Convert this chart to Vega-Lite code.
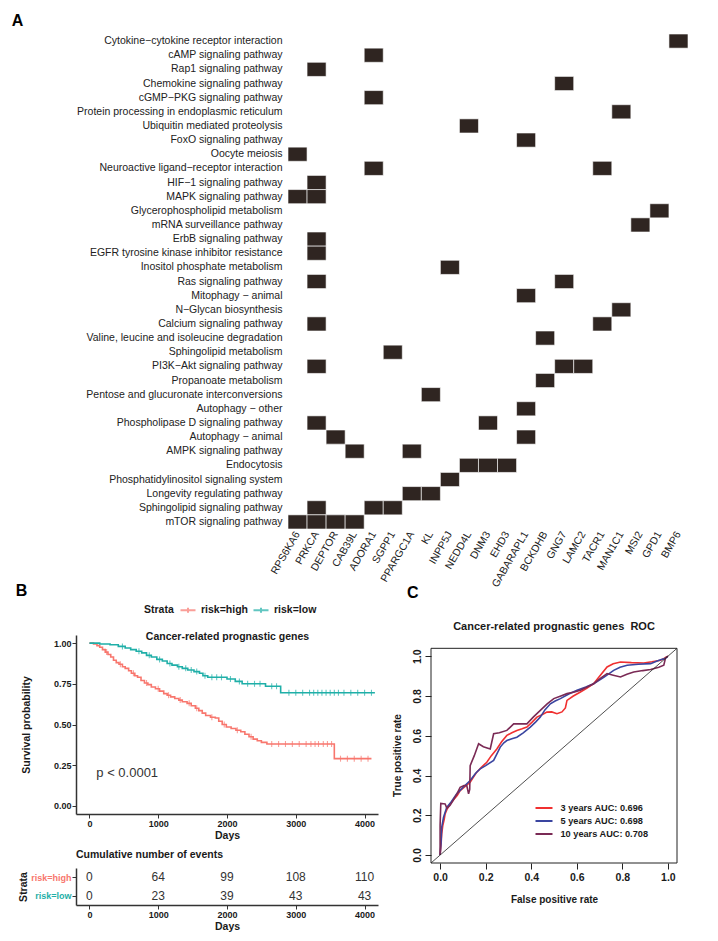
{
"$schema": "https://vega.github.io/schema/vega-lite/v6.json",
"padding": {"left": 11, "top": 12, "right": 5, "bottom": 5},
"config": {
  "font": "Liberation Sans",
  "view": {"stroke": null},
  "axis": {"labelFont": "Liberation Sans", "titleFont": "Liberation Sans", "grid": false},
  "title": {"font": "Liberation Sans"},
  "legend": {"labelFont": "Liberation Sans", "titleFont": "Liberation Sans"},
  "text": {"font": "Liberation Sans"}
},
"title": {"text": "A", "anchor": "start", "fontSize": 16, "fontWeight": "bold", "offset": 5, "dx": -4},
"resolve": {"scale": {"color": "independent"}, "legend": {"color": "independent"}},
"datasets": {
  "heat": [
    {"pathway": "Cytokine−cytokine receptor interaction", "gene": "BMP6"},
    {"pathway": "cAMP signaling pathway", "gene": "ADORA1"},
    {"pathway": "Rap1 signaling pathway", "gene": "PRKCA"},
    {"pathway": "Chemokine signaling pathway", "gene": "GNG7"},
    {"pathway": "cGMP−PKG signaling pathway", "gene": "ADORA1"},
    {"pathway": "Protein processing in endoplasmic reticulum", "gene": "MAN1C1"},
    {"pathway": "Ubiquitin mediated proteolysis", "gene": "NEDD4L"},
    {"pathway": "FoxO signaling pathway", "gene": "GABARAPL1"},
    {"pathway": "Oocyte meiosis", "gene": "RPS6KA6"},
    {"pathway": "Neuroactive ligand−receptor interaction", "gene": "ADORA1"},
    {"pathway": "Neuroactive ligand−receptor interaction", "gene": "TACR1"},
    {"pathway": "HIF−1 signaling pathway", "gene": "PRKCA"},
    {"pathway": "MAPK signaling pathway", "gene": "RPS6KA6"},
    {"pathway": "MAPK signaling pathway", "gene": "PRKCA"},
    {"pathway": "Glycerophospholipid metabolism", "gene": "GPD1"},
    {"pathway": "mRNA surveillance pathway", "gene": "MSI2"},
    {"pathway": "ErbB signaling pathway", "gene": "PRKCA"},
    {"pathway": "EGFR tyrosine kinase inhibitor resistance", "gene": "PRKCA"},
    {"pathway": "Inositol phosphate metabolism", "gene": "INPP5J"},
    {"pathway": "Ras signaling pathway", "gene": "PRKCA"},
    {"pathway": "Ras signaling pathway", "gene": "GNG7"},
    {"pathway": "Mitophagy − animal", "gene": "GABARAPL1"},
    {"pathway": "N−Glycan biosynthesis", "gene": "MAN1C1"},
    {"pathway": "Calcium signaling pathway", "gene": "PRKCA"},
    {"pathway": "Calcium signaling pathway", "gene": "TACR1"},
    {"pathway": "Valine, leucine and isoleucine degradation", "gene": "BCKDHB"},
    {"pathway": "Sphingolipid metabolism", "gene": "SGPP1"},
    {"pathway": "PI3K−Akt signaling pathway", "gene": "PRKCA"},
    {"pathway": "PI3K−Akt signaling pathway", "gene": "GNG7"},
    {"pathway": "PI3K−Akt signaling pathway", "gene": "LAMC2"},
    {"pathway": "Propanoate metabolism", "gene": "BCKDHB"},
    {"pathway": "Pentose and glucuronate interconversions", "gene": "KL"},
    {"pathway": "Autophagy − other", "gene": "GABARAPL1"},
    {"pathway": "Phospholipase D signaling pathway", "gene": "PRKCA"},
    {"pathway": "Phospholipase D signaling pathway", "gene": "DNM3"},
    {"pathway": "Autophagy − animal", "gene": "DEPTOR"},
    {"pathway": "Autophagy − animal", "gene": "GABARAPL1"},
    {"pathway": "AMPK signaling pathway", "gene": "CAB39L"},
    {"pathway": "AMPK signaling pathway", "gene": "PPARGC1A"},
    {"pathway": "Endocytosis", "gene": "NEDD4L"},
    {"pathway": "Endocytosis", "gene": "DNM3"},
    {"pathway": "Endocytosis", "gene": "EHD3"},
    {"pathway": "Phosphatidylinositol signaling system", "gene": "INPP5J"},
    {"pathway": "Longevity regulating pathway", "gene": "PPARGC1A"},
    {"pathway": "Longevity regulating pathway", "gene": "KL"},
    {"pathway": "Sphingolipid signaling pathway", "gene": "PRKCA"},
    {"pathway": "Sphingolipid signaling pathway", "gene": "ADORA1"},
    {"pathway": "Sphingolipid signaling pathway", "gene": "SGPP1"},
    {"pathway": "mTOR signaling pathway", "gene": "RPS6KA6"},
    {"pathway": "mTOR signaling pathway", "gene": "PRKCA"},
    {"pathway": "mTOR signaling pathway", "gene": "DEPTOR"},
    {"pathway": "mTOR signaling pathway", "gene": "CAB39L"}
  ],
  "km": [
    {"strata": "risk=high", "days": 0, "surv": 1.0},
    {"strata": "risk=high", "days": 60, "surv": 0.995},
    {"strata": "risk=high", "days": 110, "surv": 0.985},
    {"strata": "risk=high", "days": 150, "surv": 0.975},
    {"strata": "risk=high", "days": 190, "surv": 0.96},
    {"strata": "risk=high", "days": 230, "surv": 0.945},
    {"strata": "risk=high", "days": 270, "surv": 0.93},
    {"strata": "risk=high", "days": 310, "surv": 0.915},
    {"strata": "risk=high", "days": 350, "surv": 0.895},
    {"strata": "risk=high", "days": 390, "surv": 0.88},
    {"strata": "risk=high", "days": 430, "surv": 0.87},
    {"strata": "risk=high", "days": 480, "surv": 0.855},
    {"strata": "risk=high", "days": 520, "surv": 0.845},
    {"strata": "risk=high", "days": 570, "surv": 0.83},
    {"strata": "risk=high", "days": 610, "surv": 0.815},
    {"strata": "risk=high", "days": 660, "surv": 0.8},
    {"strata": "risk=high", "days": 700, "surv": 0.79},
    {"strata": "risk=high", "days": 750, "surv": 0.77},
    {"strata": "risk=high", "days": 800, "surv": 0.755},
    {"strata": "risk=high", "days": 850, "surv": 0.745},
    {"strata": "risk=high", "days": 900, "surv": 0.73},
    {"strata": "risk=high", "days": 960, "surv": 0.72},
    {"strata": "risk=high", "days": 1020, "surv": 0.705},
    {"strata": "risk=high", "days": 1080, "surv": 0.69},
    {"strata": "risk=high", "days": 1130, "surv": 0.68},
    {"strata": "risk=high", "days": 1180, "surv": 0.67},
    {"strata": "risk=high", "days": 1240, "surv": 0.66},
    {"strata": "risk=high", "days": 1300, "surv": 0.65},
    {"strata": "risk=high", "days": 1350, "surv": 0.64},
    {"strata": "risk=high", "days": 1420, "surv": 0.63},
    {"strata": "risk=high", "days": 1480, "surv": 0.615},
    {"strata": "risk=high", "days": 1540, "surv": 0.6},
    {"strata": "risk=high", "days": 1590, "surv": 0.585},
    {"strata": "risk=high", "days": 1640, "surv": 0.57},
    {"strata": "risk=high", "days": 1690, "surv": 0.555},
    {"strata": "risk=high", "days": 1760, "surv": 0.545},
    {"strata": "risk=high", "days": 1830, "surv": 0.54},
    {"strata": "risk=high", "days": 1880, "surv": 0.52},
    {"strata": "risk=high", "days": 1930, "surv": 0.5},
    {"strata": "risk=high", "days": 1990, "surv": 0.485},
    {"strata": "risk=high", "days": 2060, "surv": 0.475},
    {"strata": "risk=high", "days": 2130, "surv": 0.465},
    {"strata": "risk=high", "days": 2200, "surv": 0.455},
    {"strata": "risk=high", "days": 2260, "surv": 0.44},
    {"strata": "risk=high", "days": 2320, "surv": 0.425},
    {"strata": "risk=high", "days": 2380, "surv": 0.41},
    {"strata": "risk=high", "days": 2440, "surv": 0.4},
    {"strata": "risk=high", "days": 2500, "surv": 0.39},
    {"strata": "risk=high", "days": 2580, "surv": 0.38},
    {"strata": "risk=high", "days": 3560, "surv": 0.29},
    {"strata": "risk=high", "days": 4100, "surv": 0.29},
    {"strata": "risk=low", "days": 0, "surv": 1.0},
    {"strata": "risk=low", "days": 150, "surv": 0.995},
    {"strata": "risk=low", "days": 300, "surv": 0.99},
    {"strata": "risk=low", "days": 420, "surv": 0.98},
    {"strata": "risk=low", "days": 520, "surv": 0.97},
    {"strata": "risk=low", "days": 600, "surv": 0.96},
    {"strata": "risk=low", "days": 680, "surv": 0.95},
    {"strata": "risk=low", "days": 760, "surv": 0.94},
    {"strata": "risk=low", "days": 830, "surv": 0.925},
    {"strata": "risk=low", "days": 900, "surv": 0.915},
    {"strata": "risk=low", "days": 980, "surv": 0.9},
    {"strata": "risk=low", "days": 1060, "surv": 0.89},
    {"strata": "risk=low", "days": 1130, "surv": 0.875},
    {"strata": "risk=low", "days": 1200, "surv": 0.865},
    {"strata": "risk=low", "days": 1280, "surv": 0.855},
    {"strata": "risk=low", "days": 1350, "surv": 0.845},
    {"strata": "risk=low", "days": 1430, "surv": 0.835},
    {"strata": "risk=low", "days": 1520, "surv": 0.825},
    {"strata": "risk=low", "days": 1600, "surv": 0.815},
    {"strata": "risk=low", "days": 1650, "surv": 0.8},
    {"strata": "risk=low", "days": 1720, "surv": 0.79},
    {"strata": "risk=low", "days": 2000, "surv": 0.78},
    {"strata": "risk=low", "days": 2120, "surv": 0.765},
    {"strata": "risk=low", "days": 2220, "surv": 0.75},
    {"strata": "risk=low", "days": 2560, "surv": 0.735},
    {"strata": "risk=low", "days": 2780, "surv": 0.695},
    {"strata": "risk=low", "days": 4150, "surv": 0.695}
  ],
  "censor": [
    {"strata": "risk=high", "days": 250, "surv": 0.945},
    {"strata": "risk=high", "days": 450, "surv": 0.87},
    {"strata": "risk=high", "days": 640, "surv": 0.815},
    {"strata": "risk=high", "days": 830, "surv": 0.755},
    {"strata": "risk=high", "days": 1000, "surv": 0.72},
    {"strata": "risk=high", "days": 1150, "surv": 0.68},
    {"strata": "risk=high", "days": 1320, "surv": 0.65},
    {"strata": "risk=high", "days": 1450, "surv": 0.63},
    {"strata": "risk=high", "days": 1560, "surv": 0.6},
    {"strata": "risk=high", "days": 1780, "surv": 0.545},
    {"strata": "risk=high", "days": 1960, "surv": 0.5},
    {"strata": "risk=high", "days": 2150, "surv": 0.465},
    {"strata": "risk=high", "days": 2350, "surv": 0.425},
    {"strata": "risk=high", "days": 2650, "surv": 0.38},
    {"strata": "risk=high", "days": 2750, "surv": 0.38},
    {"strata": "risk=high", "days": 2850, "surv": 0.38},
    {"strata": "risk=high", "days": 2950, "surv": 0.38},
    {"strata": "risk=high", "days": 3050, "surv": 0.38},
    {"strata": "risk=high", "days": 3150, "surv": 0.38},
    {"strata": "risk=high", "days": 3220, "surv": 0.38},
    {"strata": "risk=high", "days": 3280, "surv": 0.38},
    {"strata": "risk=high", "days": 3330, "surv": 0.38},
    {"strata": "risk=high", "days": 3400, "surv": 0.38},
    {"strata": "risk=high", "days": 3460, "surv": 0.38},
    {"strata": "risk=high", "days": 3520, "surv": 0.38},
    {"strata": "risk=high", "days": 3650, "surv": 0.29},
    {"strata": "risk=high", "days": 3750, "surv": 0.29},
    {"strata": "risk=high", "days": 3850, "surv": 0.29},
    {"strata": "risk=high", "days": 3950, "surv": 0.29},
    {"strata": "risk=high", "days": 4050, "surv": 0.29},
    {"strata": "risk=low", "days": 480, "surv": 0.98},
    {"strata": "risk=low", "days": 720, "surv": 0.95},
    {"strata": "risk=low", "days": 870, "surv": 0.925},
    {"strata": "risk=low", "days": 1020, "surv": 0.9},
    {"strata": "risk=low", "days": 1170, "surv": 0.875},
    {"strata": "risk=low", "days": 1300, "surv": 0.855},
    {"strata": "risk=low", "days": 1400, "surv": 0.845},
    {"strata": "risk=low", "days": 1480, "surv": 0.835},
    {"strata": "risk=low", "days": 1560, "surv": 0.825},
    {"strata": "risk=low", "days": 1680, "surv": 0.8},
    {"strata": "risk=low", "days": 1780, "surv": 0.79},
    {"strata": "risk=low", "days": 1850, "surv": 0.79},
    {"strata": "risk=low", "days": 1920, "surv": 0.79},
    {"strata": "risk=low", "days": 2050, "surv": 0.78},
    {"strata": "risk=low", "days": 2180, "surv": 0.765},
    {"strata": "risk=low", "days": 2300, "surv": 0.75},
    {"strata": "risk=low", "days": 2400, "surv": 0.75},
    {"strata": "risk=low", "days": 2480, "surv": 0.75},
    {"strata": "risk=low", "days": 2650, "surv": 0.735},
    {"strata": "risk=low", "days": 2720, "surv": 0.735},
    {"strata": "risk=low", "days": 2900, "surv": 0.695},
    {"strata": "risk=low", "days": 3000, "surv": 0.695},
    {"strata": "risk=low", "days": 3100, "surv": 0.695},
    {"strata": "risk=low", "days": 3200, "surv": 0.695},
    {"strata": "risk=low", "days": 3260, "surv": 0.695},
    {"strata": "risk=low", "days": 3320, "surv": 0.695},
    {"strata": "risk=low", "days": 3380, "surv": 0.695},
    {"strata": "risk=low", "days": 3440, "surv": 0.695},
    {"strata": "risk=low", "days": 3500, "surv": 0.695},
    {"strata": "risk=low", "days": 3560, "surv": 0.695},
    {"strata": "risk=low", "days": 3620, "surv": 0.695},
    {"strata": "risk=low", "days": 3700, "surv": 0.695},
    {"strata": "risk=low", "days": 3800, "surv": 0.695},
    {"strata": "risk=low", "days": 3900, "surv": 0.695},
    {"strata": "risk=low", "days": 4000, "surv": 0.695},
    {"strata": "risk=low", "days": 4100, "surv": 0.695}
  ],
  "risk": [
    {"strata": "risk=high", "days": 0, "events": 0},
    {"strata": "risk=high", "days": 1000, "events": 64},
    {"strata": "risk=high", "days": 2000, "events": 99},
    {"strata": "risk=high", "days": 3000, "events": 108},
    {"strata": "risk=high", "days": 4000, "events": 110},
    {"strata": "risk=low", "days": 0, "events": 0},
    {"strata": "risk=low", "days": 1000, "events": 23},
    {"strata": "risk=low", "days": 2000, "events": 39},
    {"strata": "risk=low", "days": 3000, "events": 43},
    {"strata": "risk=low", "days": 4000, "events": 43}
  ],
  "roc": [
    {"curve": "3 years AUC: 0.696", "i": 0, "fpr": 0, "tpr": 0},
    {"curve": "3 years AUC: 0.696", "i": 1, "fpr": 0.004, "tpr": 0.05},
    {"curve": "3 years AUC: 0.696", "i": 2, "fpr": 0.007, "tpr": 0.106},
    {"curve": "3 years AUC: 0.696", "i": 3, "fpr": 0.012, "tpr": 0.15},
    {"curve": "3 years AUC: 0.696", "i": 4, "fpr": 0.018, "tpr": 0.18},
    {"curve": "3 years AUC: 0.696", "i": 5, "fpr": 0.022, "tpr": 0.207},
    {"curve": "3 years AUC: 0.696", "i": 6, "fpr": 0.03, "tpr": 0.23},
    {"curve": "3 years AUC: 0.696", "i": 7, "fpr": 0.044, "tpr": 0.257},
    {"curve": "3 years AUC: 0.696", "i": 8, "fpr": 0.06, "tpr": 0.28},
    {"curve": "3 years AUC: 0.696", "i": 9, "fpr": 0.075, "tpr": 0.3},
    {"curve": "3 years AUC: 0.696", "i": 10, "fpr": 0.088, "tpr": 0.324},
    {"curve": "3 years AUC: 0.696", "i": 11, "fpr": 0.1, "tpr": 0.335},
    {"curve": "3 years AUC: 0.696", "i": 12, "fpr": 0.115, "tpr": 0.35},
    {"curve": "3 years AUC: 0.696", "i": 13, "fpr": 0.132, "tpr": 0.366},
    {"curve": "3 years AUC: 0.696", "i": 14, "fpr": 0.145, "tpr": 0.39},
    {"curve": "3 years AUC: 0.696", "i": 15, "fpr": 0.161, "tpr": 0.417},
    {"curve": "3 years AUC: 0.696", "i": 16, "fpr": 0.18, "tpr": 0.44},
    {"curve": "3 years AUC: 0.696", "i": 17, "fpr": 0.205, "tpr": 0.467},
    {"curve": "3 years AUC: 0.696", "i": 18, "fpr": 0.225, "tpr": 0.5},
    {"curve": "3 years AUC: 0.696", "i": 19, "fpr": 0.249, "tpr": 0.534},
    {"curve": "3 years AUC: 0.696", "i": 20, "fpr": 0.27, "tpr": 0.57},
    {"curve": "3 years AUC: 0.696", "i": 21, "fpr": 0.293, "tpr": 0.602},
    {"curve": "3 years AUC: 0.696", "i": 22, "fpr": 0.315, "tpr": 0.615},
    {"curve": "3 years AUC: 0.696", "i": 23, "fpr": 0.337, "tpr": 0.627},
    {"curve": "3 years AUC: 0.696", "i": 24, "fpr": 0.36, "tpr": 0.635},
    {"curve": "3 years AUC: 0.696", "i": 25, "fpr": 0.381, "tpr": 0.644},
    {"curve": "3 years AUC: 0.696", "i": 26, "fpr": 0.405, "tpr": 0.67},
    {"curve": "3 years AUC: 0.696", "i": 27, "fpr": 0.425, "tpr": 0.694},
    {"curve": "3 years AUC: 0.696", "i": 28, "fpr": 0.445, "tpr": 0.705},
    {"curve": "3 years AUC: 0.696", "i": 29, "fpr": 0.469, "tpr": 0.719},
    {"curve": "3 years AUC: 0.696", "i": 30, "fpr": 0.49, "tpr": 0.72},
    {"curve": "3 years AUC: 0.696", "i": 31, "fpr": 0.513, "tpr": 0.711},
    {"curve": "3 years AUC: 0.696", "i": 32, "fpr": 0.535, "tpr": 0.72},
    {"curve": "3 years AUC: 0.696", "i": 33, "fpr": 0.55, "tpr": 0.74},
    {"curve": "3 years AUC: 0.696", "i": 34, "fpr": 0.557, "tpr": 0.778},
    {"curve": "3 years AUC: 0.696", "i": 35, "fpr": 0.585, "tpr": 0.8},
    {"curve": "3 years AUC: 0.696", "i": 36, "fpr": 0.616, "tpr": 0.82},
    {"curve": "3 years AUC: 0.696", "i": 37, "fpr": 0.645, "tpr": 0.84},
    {"curve": "3 years AUC: 0.696", "i": 38, "fpr": 0.674, "tpr": 0.862},
    {"curve": "3 years AUC: 0.696", "i": 39, "fpr": 0.7, "tpr": 0.9},
    {"curve": "3 years AUC: 0.696", "i": 40, "fpr": 0.733, "tpr": 0.946},
    {"curve": "3 years AUC: 0.696", "i": 41, "fpr": 0.76, "tpr": 0.962},
    {"curve": "3 years AUC: 0.696", "i": 42, "fpr": 0.792, "tpr": 0.971},
    {"curve": "3 years AUC: 0.696", "i": 43, "fpr": 0.84, "tpr": 0.968},
    {"curve": "3 years AUC: 0.696", "i": 44, "fpr": 0.894, "tpr": 0.966},
    {"curve": "3 years AUC: 0.696", "i": 45, "fpr": 0.93, "tpr": 0.972},
    {"curve": "3 years AUC: 0.696", "i": 46, "fpr": 0.968, "tpr": 0.98},
    {"curve": "3 years AUC: 0.696", "i": 47, "fpr": 0.985, "tpr": 0.99},
    {"curve": "3 years AUC: 0.696", "i": 48, "fpr": 1, "tpr": 1},
    {"curve": "5 years AUC: 0.698", "i": 0, "fpr": 0, "tpr": 0},
    {"curve": "5 years AUC: 0.698", "i": 1, "fpr": 0.004, "tpr": 0.06},
    {"curve": "5 years AUC: 0.698", "i": 2, "fpr": 0.007, "tpr": 0.14},
    {"curve": "5 years AUC: 0.698", "i": 3, "fpr": 0.015, "tpr": 0.19},
    {"curve": "5 years AUC: 0.698", "i": 4, "fpr": 0.029, "tpr": 0.24},
    {"curve": "5 years AUC: 0.698", "i": 5, "fpr": 0.05, "tpr": 0.27},
    {"curve": "5 years AUC: 0.698", "i": 6, "fpr": 0.073, "tpr": 0.308},
    {"curve": "5 years AUC: 0.698", "i": 7, "fpr": 0.1, "tpr": 0.34},
    {"curve": "5 years AUC: 0.698", "i": 8, "fpr": 0.132, "tpr": 0.375},
    {"curve": "5 years AUC: 0.698", "i": 9, "fpr": 0.155, "tpr": 0.41},
    {"curve": "5 years AUC: 0.698", "i": 10, "fpr": 0.176, "tpr": 0.434},
    {"curve": "5 years AUC: 0.698", "i": 11, "fpr": 0.2, "tpr": 0.45},
    {"curve": "5 years AUC: 0.698", "i": 12, "fpr": 0.235, "tpr": 0.476},
    {"curve": "5 years AUC: 0.698", "i": 13, "fpr": 0.25, "tpr": 0.51},
    {"curve": "5 years AUC: 0.698", "i": 14, "fpr": 0.264, "tpr": 0.543},
    {"curve": "5 years AUC: 0.698", "i": 15, "fpr": 0.28, "tpr": 0.565},
    {"curve": "5 years AUC: 0.698", "i": 16, "fpr": 0.293, "tpr": 0.576},
    {"curve": "5 years AUC: 0.698", "i": 17, "fpr": 0.315, "tpr": 0.585},
    {"curve": "5 years AUC: 0.698", "i": 18, "fpr": 0.337, "tpr": 0.593},
    {"curve": "5 years AUC: 0.698", "i": 19, "fpr": 0.365, "tpr": 0.615},
    {"curve": "5 years AUC: 0.698", "i": 20, "fpr": 0.396, "tpr": 0.644},
    {"curve": "5 years AUC: 0.698", "i": 21, "fpr": 0.42, "tpr": 0.67},
    {"curve": "5 years AUC: 0.698", "i": 22, "fpr": 0.44, "tpr": 0.694},
    {"curve": "5 years AUC: 0.698", "i": 23, "fpr": 0.46, "tpr": 0.73},
    {"curve": "5 years AUC: 0.698", "i": 24, "fpr": 0.484, "tpr": 0.761},
    {"curve": "5 years AUC: 0.698", "i": 25, "fpr": 0.505, "tpr": 0.775},
    {"curve": "5 years AUC: 0.698", "i": 26, "fpr": 0.528, "tpr": 0.787},
    {"curve": "5 years AUC: 0.698", "i": 27, "fpr": 0.565, "tpr": 0.81},
    {"curve": "5 years AUC: 0.698", "i": 28, "fpr": 0.601, "tpr": 0.829},
    {"curve": "5 years AUC: 0.698", "i": 29, "fpr": 0.64, "tpr": 0.845},
    {"curve": "5 years AUC: 0.698", "i": 30, "fpr": 0.674, "tpr": 0.862},
    {"curve": "5 years AUC: 0.698", "i": 31, "fpr": 0.72, "tpr": 0.895},
    {"curve": "5 years AUC: 0.698", "i": 32, "fpr": 0.762, "tpr": 0.929},
    {"curve": "5 years AUC: 0.698", "i": 33, "fpr": 0.79, "tpr": 0.945},
    {"curve": "5 years AUC: 0.698", "i": 34, "fpr": 0.821, "tpr": 0.955},
    {"curve": "5 years AUC: 0.698", "i": 35, "fpr": 0.87, "tpr": 0.96},
    {"curve": "5 years AUC: 0.698", "i": 36, "fpr": 0.924, "tpr": 0.963},
    {"curve": "5 years AUC: 0.698", "i": 37, "fpr": 0.95, "tpr": 0.975},
    {"curve": "5 years AUC: 0.698", "i": 38, "fpr": 0.968, "tpr": 0.983},
    {"curve": "5 years AUC: 0.698", "i": 39, "fpr": 0.99, "tpr": 0.99},
    {"curve": "5 years AUC: 0.698", "i": 40, "fpr": 1, "tpr": 1},
    {"curve": "10 years AUC: 0.708", "i": 0, "fpr": 0, "tpr": 0},
    {"curve": "10 years AUC: 0.708", "i": 1, "fpr": 0, "tpr": 0.15},
    {"curve": "10 years AUC: 0.708", "i": 2, "fpr": 0.003, "tpr": 0.26},
    {"curve": "10 years AUC: 0.708", "i": 3, "fpr": 0.015, "tpr": 0.258},
    {"curve": "10 years AUC: 0.708", "i": 4, "fpr": 0.022, "tpr": 0.257},
    {"curve": "10 years AUC: 0.708", "i": 5, "fpr": 0.03, "tpr": 0.235},
    {"curve": "10 years AUC: 0.708", "i": 6, "fpr": 0.044, "tpr": 0.25},
    {"curve": "10 years AUC: 0.708", "i": 7, "fpr": 0.06, "tpr": 0.28},
    {"curve": "10 years AUC: 0.708", "i": 8, "fpr": 0.075, "tpr": 0.31},
    {"curve": "10 years AUC: 0.708", "i": 9, "fpr": 0.088, "tpr": 0.341},
    {"curve": "10 years AUC: 0.708", "i": 10, "fpr": 0.105, "tpr": 0.35},
    {"curve": "10 years AUC: 0.708", "i": 11, "fpr": 0.117, "tpr": 0.35},
    {"curve": "10 years AUC: 0.708", "i": 12, "fpr": 0.125, "tpr": 0.308},
    {"curve": "10 years AUC: 0.708", "i": 13, "fpr": 0.13, "tpr": 0.33},
    {"curve": "10 years AUC: 0.708", "i": 14, "fpr": 0.132, "tpr": 0.45},
    {"curve": "10 years AUC: 0.708", "i": 15, "fpr": 0.15, "tpr": 0.5},
    {"curve": "10 years AUC: 0.708", "i": 16, "fpr": 0.169, "tpr": 0.56},
    {"curve": "10 years AUC: 0.708", "i": 17, "fpr": 0.19, "tpr": 0.545},
    {"curve": "10 years AUC: 0.708", "i": 18, "fpr": 0.22, "tpr": 0.534},
    {"curve": "10 years AUC: 0.708", "i": 19, "fpr": 0.235, "tpr": 0.61},
    {"curve": "10 years AUC: 0.708", "i": 20, "fpr": 0.26, "tpr": 0.615},
    {"curve": "10 years AUC: 0.708", "i": 21, "fpr": 0.293, "tpr": 0.627},
    {"curve": "10 years AUC: 0.708", "i": 22, "fpr": 0.323, "tpr": 0.66},
    {"curve": "10 years AUC: 0.708", "i": 23, "fpr": 0.35, "tpr": 0.66},
    {"curve": "10 years AUC: 0.708", "i": 24, "fpr": 0.381, "tpr": 0.66},
    {"curve": "10 years AUC: 0.708", "i": 25, "fpr": 0.41, "tpr": 0.695},
    {"curve": "10 years AUC: 0.708", "i": 26, "fpr": 0.44, "tpr": 0.728},
    {"curve": "10 years AUC: 0.708", "i": 27, "fpr": 0.47, "tpr": 0.76},
    {"curve": "10 years AUC: 0.708", "i": 28, "fpr": 0.499, "tpr": 0.787},
    {"curve": "10 years AUC: 0.708", "i": 29, "fpr": 0.53, "tpr": 0.8},
    {"curve": "10 years AUC: 0.708", "i": 30, "fpr": 0.557, "tpr": 0.812},
    {"curve": "10 years AUC: 0.708", "i": 31, "fpr": 0.59, "tpr": 0.82},
    {"curve": "10 years AUC: 0.708", "i": 32, "fpr": 0.616, "tpr": 0.829},
    {"curve": "10 years AUC: 0.708", "i": 33, "fpr": 0.645, "tpr": 0.845},
    {"curve": "10 years AUC: 0.708", "i": 34, "fpr": 0.674, "tpr": 0.862},
    {"curve": "10 years AUC: 0.708", "i": 35, "fpr": 0.705, "tpr": 0.89},
    {"curve": "10 years AUC: 0.708", "i": 36, "fpr": 0.733, "tpr": 0.913},
    {"curve": "10 years AUC: 0.708", "i": 37, "fpr": 0.76, "tpr": 0.905},
    {"curve": "10 years AUC: 0.708", "i": 38, "fpr": 0.792, "tpr": 0.896},
    {"curve": "10 years AUC: 0.708", "i": 39, "fpr": 0.82, "tpr": 0.91},
    {"curve": "10 years AUC: 0.708", "i": 40, "fpr": 0.85, "tpr": 0.921},
    {"curve": "10 years AUC: 0.708", "i": 41, "fpr": 0.89, "tpr": 0.928},
    {"curve": "10 years AUC: 0.708", "i": 42, "fpr": 0.924, "tpr": 0.933},
    {"curve": "10 years AUC: 0.708", "i": 43, "fpr": 0.96, "tpr": 0.945},
    {"curve": "10 years AUC: 0.708", "i": 44, "fpr": 0.982, "tpr": 0.955},
    {"curve": "10 years AUC: 0.708", "i": 45, "fpr": 0.99, "tpr": 0.993},
    {"curve": "10 years AUC: 0.708", "i": 46, "fpr": 1, "tpr": 1}
  ]
},
"spacing": -6,
"vconcat": [
  {
    "width": 612, "height": 495,
    "data": {"name": "heat"},
    "mark": {"type": "rect", "color": "#2F2521", "stroke": "#ffffff", "strokeWidth": 0.6},
    "encoding": {
      "x": {"field": "gene", "type": "nominal",
        "scale": {"domain": ["RPS6KA6","PRKCA","DEPTOR","CAB39L","ADORA1","SGPP1","PPARGC1A","KL","INPP5J","NEDD4L","DNM3","EHD3","GABARAPL1","BCKDHB","GNG7","LAMC2","TACR1","MAN1C1","MSI2","GPD1","BMP6"], "range": [212, 612], "paddingInner": 0, "paddingOuter": 0},
        "axis": {"title": null, "labelAngle": -60, "ticks": false, "domain": false, "labelFontSize": 10.5, "labelColor": "#222222", "labelPadding": 3}},
      "y": {"field": "pathway", "type": "nominal",
        "scale": {"domain": ["Cytokine−cytokine receptor interaction","cAMP signaling pathway","Rap1 signaling pathway","Chemokine signaling pathway","cGMP−PKG signaling pathway","Protein processing in endoplasmic reticulum","Ubiquitin mediated proteolysis","FoxO signaling pathway","Oocyte meiosis","Neuroactive ligand−receptor interaction","HIF−1 signaling pathway","MAPK signaling pathway","Glycerophospholipid metabolism","mRNA surveillance pathway","ErbB signaling pathway","EGFR tyrosine kinase inhibitor resistance","Inositol phosphate metabolism","Ras signaling pathway","Mitophagy − animal","N−Glycan biosynthesis","Calcium signaling pathway","Valine, leucine and isoleucine degradation","Sphingolipid metabolism","PI3K−Akt signaling pathway","Propanoate metabolism","Pentose and glucuronate interconversions","Autophagy − other","Phospholipase D signaling pathway","Autophagy − animal","AMPK signaling pathway","Endocytosis","Phosphatidylinositol signaling system","Longevity regulating pathway","Sphingolipid signaling pathway","mTOR signaling pathway"], "paddingInner": 0, "paddingOuter": 0},
        "axis": {"title": null, "ticks": false, "domain": false, "offset": -212, "labelPadding": 6, "labelFontSize": 10.5, "labelColor": "#222222", "labelLimit": 400}}
    }
  },
  {
    "spacing": 12,
    "resolve": {"scale": {"color": "independent"}, "legend": {"color": "independent"}},
    "hconcat": [
      {
        "title": {"text": "B", "anchor": "start", "fontSize": 16, "fontWeight": "bold", "offset": 5, "dx": -3},
        "spacing": 8,
        "vconcat": [
          {
            "width": 302, "height": 179,
            "layer": [
              {
                "data": {"name": "km"},
                "mark": {"type": "line", "interpolate": "step-after", "strokeWidth": 1.6},
                "encoding": {
                  "x": {"field": "days", "type": "quantitative", "scale": {"domain": [-195, 4195], "nice": false, "zero": false},
                    "axis": {"orient": "bottom", "values": [0, 1000, 2000, 3000, 4000], "format": "d", "title": "Days", "labelFontSize": 9, "labelFontWeight": "bold", "labelColor": "#1a1a1a", "labelPadding": 1, "tickSize": 4, "tickColor": "#333333", "domainColor": "#333333", "domainWidth": 1.5, "titleFontSize": 10.5, "titleFontWeight": "bold", "titlePadding": 2, "titleColor": "#1a1a1a"}},
                  "y": {"field": "surv", "type": "quantitative", "scale": {"domain": [-0.05, 1.05], "nice": false, "zero": false},
                    "axis": {"values": [0, 0.25, 0.5, 0.75, 1], "format": ".2f", "title": "Survival probability", "labelFontSize": 9, "labelFontWeight": "bold", "labelColor": "#1a1a1a", "labelPadding": 1, "tickSize": 4, "tickColor": "#333333", "domainColor": "#333333", "domainWidth": 1.5, "titleFontSize": 10.5, "titleFontWeight": "bold", "titlePadding": 22, "titleColor": "#1a1a1a"}},
                  "color": {"field": "strata", "type": "nominal", "scale": {"domain": ["risk=high", "risk=low"], "range": ["#F8766D", "#1FAFA8"]},
                    "legend": {"orient": "none", "legendX": 68, "legendY": -31, "direction": "horizontal", "title": "Strata", "titleOrient": "left", "titleFontSize": 10.5, "titleFontWeight": "bold", "titleColor": "#1a1a1a", "titlePadding": 8, "labelFontSize": 10.5, "labelFontWeight": "bold", "labelColor": "#1a1a1a", "labelOffset": 7, "columnPadding": 1, "symbolType": "M-1.5,0H1.5M0,-0.5V0.5", "symbolSize": 100, "symbolStrokeWidth": 2, "padding": 0}}
                }
              },
              {
                "data": {"name": "censor"},
                "mark": {"type": "tick", "orient": "vertical", "size": 6, "thickness": 1.1},
                "encoding": {
                  "x": {"field": "days", "type": "quantitative",
                    "axis": {"orient": "top", "title": "Cancer-related prognastic genes", "labels": false, "ticks": false, "domain": false, "titleFontSize": 10.5, "titleFontWeight": "bold", "titleColor": "#1a1a1a", "titlePadding": -6}},
                  "y": {"field": "surv", "type": "quantitative"},
                  "color": {"field": "strata", "type": "nominal"}
                }
              },
              {
                "data": {"values": [{"label": "p < 0.0001"}]},
                "mark": {"type": "text", "align": "left", "baseline": "middle", "fontSize": 13, "color": "#333333"},
                "encoding": {
                  "x": {"datum": 100, "type": "quantitative", "axis": null},
                  "y": {"datum": 0.2, "type": "quantitative"},
                  "text": {"field": "label"}
                }
              }
            ],
            "resolve": {"axis": {"x": "independent"}}
          },
          {
            "width": 302, "height": 37,
            "title": {"text": "Cumulative number of events", "anchor": "start", "frame": "group", "fontSize": 10.5, "fontWeight": "bold", "color": "#1a1a1a", "offset": 8},
            "data": {"name": "risk"},
            "mark": {"type": "text", "fontSize": 12, "color": "#333333", "baseline": "middle"},
            "encoding": {
              "x": {"field": "days", "type": "quantitative", "scale": {"domain": [-195, 4195], "nice": false, "zero": false},
                "axis": {"values": [0, 1000, 2000, 3000, 4000], "format": "d", "title": "Days", "labelFontSize": 9, "labelFontWeight": "bold", "labelColor": "#1a1a1a", "labelPadding": 1, "tickSize": 4, "tickColor": "#333333", "domainColor": "#333333", "domainWidth": 1.5, "titleFontSize": 10.5, "titleFontWeight": "bold", "titlePadding": 2, "titleColor": "#1a1a1a"}},
              "y": {"field": "strata", "type": "nominal", "scale": {"type": "point", "padding": 0.5, "domain": ["risk=high", "risk=low"]},
                "axis": {"title": "Strata", "labelFontSize": 9, "labelFontWeight": "bold", "labelColor": {"condition": {"test": "datum.value === 'risk=high'", "value": "#F8766D"}, "value": "#1FAFA8"}, "labelPadding": 1, "tickSize": 4, "tickColor": "#333333", "domainColor": "#333333", "domainWidth": 1.5, "titleFontSize": 10.5, "titleFontWeight": "bold", "titleColor": "#1a1a1a", "titlePadding": 2}},
              "text": {"field": "events", "type": "quantitative"}
            }
          }
        ]
      },
      {
        "title": {"text": "C", "anchor": "start", "fontSize": 16, "fontWeight": "bold", "offset": 20, "dx": 15},
        "vconcat": [
          {
            "width": 246, "height": 228,
            "title": {"text": "Cancer-related prognastic genes\u00a0 ROC", "anchor": "middle", "frame": "group", "fontSize": 11, "fontWeight": "bold", "color": "#1a1a1a", "offset": 3},
            "layer": [
              {
                "data": {"name": "roc"},
                "mark": {"type": "line", "strokeWidth": 1.6},
                "encoding": {
                  "x": {"field": "fpr", "type": "quantitative", "scale": {"domain": [-0.04, 1.04], "nice": false, "zero": false},
                    "axis": {"values": [0, 0.2, 0.4, 0.6, 0.8, 1], "format": ".1f", "domain": false, "tickSize": 6, "tickColor": "#222222", "labelFontSize": 10.5, "labelFontWeight": "bold", "labelColor": "#1a1a1a", "labelPadding": 3, "title": "False positive rate", "titleFontSize": 10, "titleFontWeight": "bold", "titleColor": "#1a1a1a", "titlePadding": 12}},
                  "y": {"field": "tpr", "type": "quantitative", "scale": {"domain": [-0.04, 1.107], "nice": false, "zero": false},
                    "axis": {"values": [0, 0.2, 0.4, 0.6, 0.8, 1], "format": ".1f", "domain": false, "tickSize": 6, "tickColor": "#222222", "labelAngle": -90, "labelFontSize": 10.5, "labelFontWeight": "bold", "labelColor": "#1a1a1a", "labelPadding": 3, "title": "True positive rate", "titleFontSize": 10, "titleFontWeight": "bold", "titleColor": "#1a1a1a", "titlePadding": 10, "titleY": 120}},
                  "color": {"field": "curve", "type": "nominal", "scale": {"domain": ["3 years AUC: 0.696", "5 years AUC: 0.698", "10 years AUC: 0.708"], "range": ["#F03030", "#3A45A0", "#7A2A55"]},
                    "legend": {"orient": "none", "legendX": 107, "legendY": 167, "title": null, "labelFontSize": 9.2, "labelFontWeight": "bold", "labelColor": "#1a1a1a", "labelOffset": 10.5, "labelLimit": 300, "symbolType": "M-1.7,0H1.7", "symbolSize": 100, "symbolStrokeWidth": 2, "rowPadding": 1, "padding": 0}},
                  "order": {"field": "i", "type": "quantitative"}
                }
              },
              {
                "data": {"values": [{}]},
                "mark": {"type": "rule", "color": "#222222", "strokeWidth": 0.8},
                "encoding": {
                  "x": {"datum": -0.04, "type": "quantitative"},
                  "y": {"datum": -0.04, "type": "quantitative"},
                  "x2": {"datum": 1.04},
                  "y2": {"datum": 1.04}
                }
              },
              {
                "data": {"values": [{}]},
                "mark": {"type": "rect", "filled": false, "color": "#222222", "strokeWidth": 1},
                "encoding": {
                  "x": {"datum": -0.04, "type": "quantitative"},
                  "y": {"datum": -0.04, "type": "quantitative"},
                  "x2": {"datum": 1.04},
                  "y2": {"datum": 1.04}
                }
              }
            ]
          }
        ]
      }
    ]
  }
]
}
